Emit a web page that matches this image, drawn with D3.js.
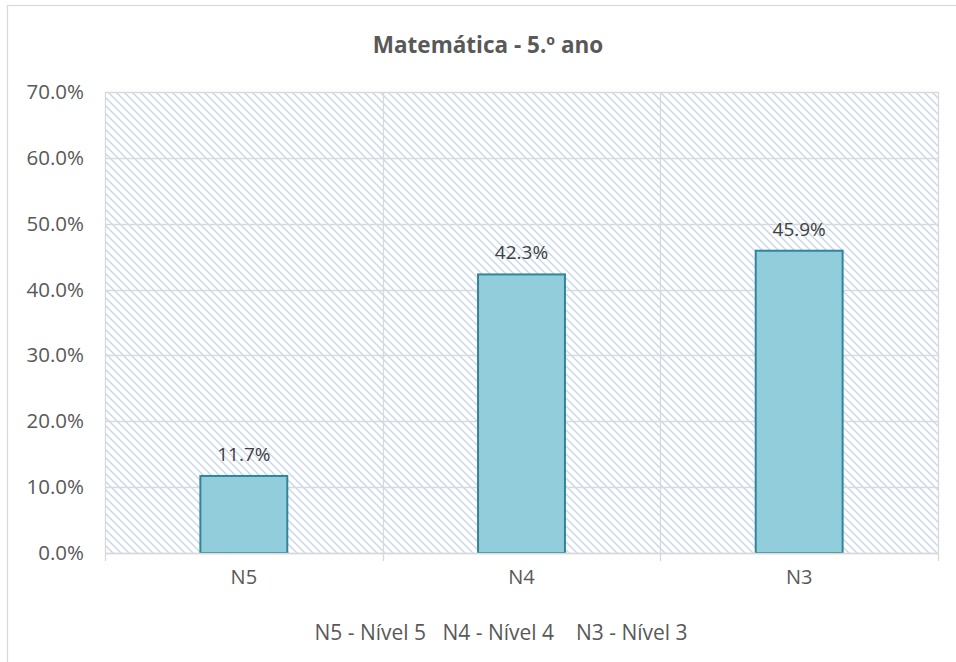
<!DOCTYPE html>
<html>
<head>
<meta charset="utf-8">
<script src="https://cdn.jsdelivr.net/npm/d3@7"></script>
<style>
  html, body { margin: 0; padding: 0; background: #ffffff; }
  svg { display: block; }
  text { font-family: "Open Sans", "Noto Sans", sans-serif; }
</style>
</head>
<body>
<script>
const categories = ["N5", "N4", "N3"];
const values = [11.7, 42.3, 45.9];
const yTicks = [0, 10, 20, 30, 40, 50, 60, 70];
const title = "Matemática - 5.º ano";
const legendText = "N5 - Nível 5   N4 - Nível 4    N3 - Nível 3";

const W = 956, H = 662;
const plot = { left: 105, right: 938, top: 92, bottom: 553 };

const svg = d3.select("body").append("svg").attr("width", W).attr("height", H);

// pattern
const defs = svg.append("defs");
const pat = defs.append("pattern")
  .attr("id", "hatch").attr("patternUnits", "userSpaceOnUse")
  .attr("width", 8).attr("height", 8);
pat.append("rect").attr("width", 8).attr("height", 8).attr("fill", "#ffffff");
pat.append("path").attr("d", "M-2,6 L2,10 M0,0 L8,8 M6,-2 L10,2")
  .attr("stroke", "#C6D6EF").attr("stroke-width", 1.4);

// chart border
svg.append("rect").attr("x", 7.5).attr("y", 5.5).attr("width", 1000).attr("height", 700)
  .attr("fill", "none").attr("stroke", "#D9D9D9").attr("stroke-width", 1.2);

const y = d3.scaleLinear().domain([0, 70]).range([plot.bottom, plot.top]);
const xCat = d3.scaleBand().domain(categories).range([plot.left, plot.right]).padding(0);
const xBar = d3.scaleBand().domain(categories).range([plot.left, plot.right])
  .paddingInner(0.687).paddingOuter(0.3435);

// plot area fill
svg.append("rect").attr("x", plot.left).attr("y", plot.top)
  .attr("width", plot.right - plot.left).attr("height", plot.bottom - plot.top)
  .attr("fill", "url(#hatch)");

// horizontal gridlines
svg.append("g").selectAll("line").data(yTicks).join("line")
  .attr("x1", plot.left).attr("x2", plot.right)
  .attr("y1", d => Math.round(y(d)) + 0.5).attr("y2", d => Math.round(y(d)) + 0.5)
  .attr("stroke", "#D9D9D9").attr("stroke-width", 1.3);

// vertical gridlines at category boundaries
const bounds = categories.map(c => xCat(c)).concat([plot.right]);
svg.append("g").selectAll("line").data(bounds).join("line")
  .attr("x1", d => Math.round(d) + 0.5).attr("x2", d => Math.round(d) + 0.5)
  .attr("y1", plot.top).attr("y2", plot.bottom + 8)
  .attr("stroke", "#D9D9D9").attr("stroke-width", 1.3);

// bars
svg.append("g").selectAll("rect").data(values).join("rect")
  .attr("x", (d, i) => xBar(categories[i]))
  .attr("y", d => y(d))
  .attr("width", xBar.bandwidth())
  .attr("height", d => plot.bottom - y(d))
  .attr("fill", "#92CDDC").attr("stroke", "#31849B").attr("stroke-width", 2);

// x axis line
svg.append("line").attr("x1", plot.left).attr("x2", plot.right)
  .attr("y1", plot.bottom + 0.5).attr("y2", plot.bottom + 0.5)
  .attr("stroke", "#D9D9D9").attr("stroke-width", 1.5);

// data labels
svg.append("g").selectAll("text").data(values).join("text")
  .attr("x", (d, i) => xBar(categories[i]) + xBar.bandwidth() / 2)
  .attr("y", d => y(d) - 15)
  .attr("text-anchor", "middle").attr("font-size", 19).attr("fill", "#404040")
  .text(d => d.toFixed(1) + "%");

// y tick labels
svg.append("g").selectAll("text").data(yTicks).join("text")
  .attr("x", 84).attr("y", d => y(d) + 7)
  .attr("text-anchor", "end").attr("font-size", 20.5).attr("fill", "#595959")
  .text(d => d.toFixed(1) + "%");

// x category labels
svg.append("g").selectAll("text").data(categories).join("text")
  .attr("x", d => xCat(d) + xCat.bandwidth() / 2)
  .attr("y", 584)
  .attr("text-anchor", "middle").attr("font-size", 20).attr("fill", "#595959")
  .text(d => d);

// legend / axis title
svg.append("text").attr("x", 501).attr("y", 640)
  .attr("text-anchor", "middle").attr("font-size", 21).attr("fill", "#595959")
  .style("white-space", "pre")
  .text(legendText);

// title
svg.append("text").attr("x", 488).attr("y", 53)
  .attr("text-anchor", "middle").attr("font-size", 22.5).attr("font-weight", "bold")
  .attr("fill", "#595959")
  .text(title);
</script>
</body>
</html>
